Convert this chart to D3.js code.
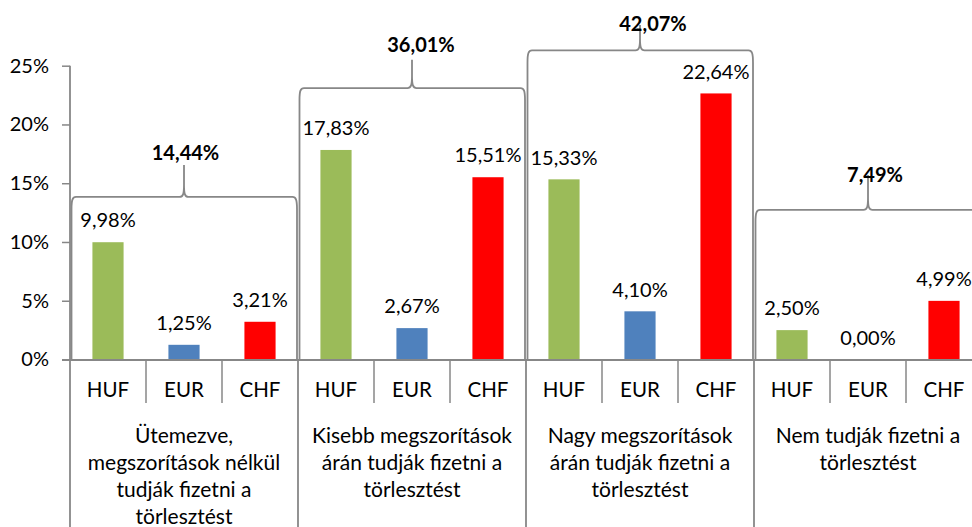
<!DOCTYPE html>
<html>
<head>
<meta charset="utf-8">
<script src="https://cdn.jsdelivr.net/npm/d3@7"></script>
<style>
  html, body { margin: 0; padding: 0; background: #fff; }
  svg { display: block; }
  text { font-family: Lato, "Open Sans", sans-serif; fill: #000; }
</style>
</head>
<body>
<svg id="chart" width="972" height="527"></svg>
<script>
// ---- data ----
const groupLabels = [
  ["Ütemezve,", "megszorítások nélkül", "tudják fizetni a", "törlesztést"],
  ["Kisebb megszorítások", "árán tudják fizetni a", "törlesztést"],
  ["Nagy megszorítások", "árán tudják fizetni a", "törlesztést"],
  ["Nem tudják fizetni a", "törlesztést"]
];
const currencies = ["HUF", "EUR", "CHF"];
const hufValues = [9.98, 17.83, 15.33, 2.50];
const eurValues = [1.25, 2.67, 4.10, 0.00];
const chfValues = [3.21, 15.51, 22.64, 4.99];
const yTickValues = [0, 5, 10, 15, 20, 25];

// brace annotation placement (in value units, %)
const braceLevel = [13.83, 23.1, 26.3, 12.73];
const braceTip = [16.56, 25.5, 28.47, 15.7];
const braceLabelY = [17.58, 26.77, 28.55, 15.7];
const braceLabelDx = [1.5, 9, 13, 7];

// ---- layout ----
const W = 972, H = 527;
const left = 70, right = 982, y0px = 359.5, y25px = 65.7;
const colors = { HUF: "#9BBB59", EUR: "#4F81BD", CHF: "#FF0000" };
const grey = "#878787";

const locale = d3.formatLocale({ decimal: ",", thousands: " ", grouping: [3], currency: ["", ""] });
const fmt = v => locale.format(".2f")(v) + "%";

const series = { HUF: hufValues, EUR: eurValues, CHF: chfValues };
const gIdx = d3.range(groupLabels.length);

const x0 = d3.scaleBand().domain(gIdx).range([left, right]).padding(0);
const x1 = d3.scaleBand().domain(currencies).range([0, x0.bandwidth()])
  .paddingInner(0.59).paddingOuter(0.295);
const xc = d3.scaleBand().domain(currencies).range([0, x0.bandwidth()]).padding(0);
const y = d3.scaleLinear().domain([0, 25]).range([y0px, y25px]);

const svg = d3.select("#chart");

// bars
const rows = [];
gIdx.forEach(g => currencies.forEach(c => rows.push({ g, c, v: series[c][g] })));

svg.append("g").selectAll("rect").data(rows).join("rect")
  .attr("x", d => x0(d.g) + x1(d.c))
  .attr("width", x1.bandwidth())
  .attr("y", d => y(d.v))
  .attr("height", d => y(0) - y(d.v))
  .attr("fill", d => colors[d.c]);

// value labels
svg.append("g").selectAll("text").data(rows).join("text")
  .attr("x", d => x0(d.g) + x1(d.c) + x1.bandwidth() / 2)
  .attr("y", d => y(d.v) - 22)
  .attr("dy", "0.36em")
  .attr("text-anchor", "middle")
  .style("font-size", "20px")
  .text(d => fmt(d.v));

// y axis
const yAxis = d3.axisLeft(y).tickValues(yTickValues).tickSize(8).tickPadding(13)
  .tickFormat(d => d + "%");
const ya = svg.append("g").attr("transform", `translate(${left},0)`).call(yAxis);
ya.select(".domain").remove();
ya.selectAll(".tick line").attr("stroke", grey).attr("stroke-width", 1.5);
ya.selectAll(".tick text").style("font-size", "20px").style("font-family", "Lato, sans-serif").attr("fill", "#000");
svg.append("line").attr("x1", left).attr("x2", left).attr("y1", y(25)).attr("y2", H)
  .attr("stroke", grey).attr("stroke-width", 1.8);

// x axis baseline
svg.append("line").attr("x1", left - 8).attr("x2", right).attr("y1", y(0) + 0.5).attr("y2", y(0) + 0.5)
  .attr("stroke", grey).attr("stroke-width", 1.8);

// sub-category separators and labels
const sepG = svg.append("g");
gIdx.forEach(g => {
  currencies.forEach((c, i) => {
    if (i > 0) {
      sepG.append("line")
        .attr("x1", x0(g) + xc(c)).attr("x2", x0(g) + xc(c))
        .attr("y1", y(0)).attr("y2", 403)
        .attr("stroke", grey).attr("stroke-width", 1.5);
    }
    sepG.append("text")
      .attr("x", x0(g) + xc(c) + xc.bandwidth() / 2)
      .attr("y", 390).attr("dy", "0.36em")
      .attr("text-anchor", "middle")
      .style("font-size", "20.5px")
      .text(c);
  });
  // group separator on right
  const xr = x0(g) + x0.bandwidth();
  sepG.append("line").attr("x1", xr).attr("x2", xr).attr("y1", y(0)).attr("y2", H)
    .attr("stroke", grey).attr("stroke-width", 1.8);
  // group label
  const t = sepG.append("text")
    .attr("text-anchor", "middle")
    .style("font-size", "21px");
  groupLabels[g].forEach((line, li) => {
    t.append("tspan")
      .attr("x", x0(g) + x0.bandwidth() / 2)
      .attr("y", 435 + li * 27)
      .attr("dy", "0.36em")
      .text(line);
  });
});

// braces with totals
const braceG = svg.append("g");
gIdx.forEach(g => {
  const xl = x0(g) + 1.5, xr = x0(g) + x0.bandwidth() - 1, cx = x0(g) + x0.bandwidth() / 2;
  const yl = y(braceLevel[g]), yt = y(braceTip[g]), yb = y(0);
  const rh = 4.5, rv = 12;
  const p = d3.path();
  p.moveTo(xl, yb);
  p.lineTo(xl, yl + rv);
  p.bezierCurveTo(xl, yl + 3, xl + 1, yl, xl + rh, yl);
  p.lineTo(cx - rh, yl);
  p.bezierCurveTo(cx - 1, yl, cx, yl - 3, cx, yl - rv);
  p.lineTo(cx, yt);
  p.moveTo(cx, yl - rv);
  p.bezierCurveTo(cx, yl - 3, cx + 1, yl, cx + rh, yl);
  p.lineTo(xr - rh, yl);
  p.bezierCurveTo(xr - 1, yl, xr, yl + 3, xr, yl + rv);
  p.lineTo(xr, yb);
  braceG.append("path").attr("d", p.toString())
    .attr("fill", "none").attr("stroke", grey).attr("stroke-width", 1.8);
  braceG.append("text")
    .attr("x", cx + braceLabelDx[g])
    .attr("y", y(braceLabelY[g])).attr("dy", "0.36em")
    .attr("text-anchor", "middle")
    .style("font-size", "20px").style("font-weight", "bold")
    .text(fmt(hufValues[g] + eurValues[g] + chfValues[g]));
});
</script>
</body>
</html>
